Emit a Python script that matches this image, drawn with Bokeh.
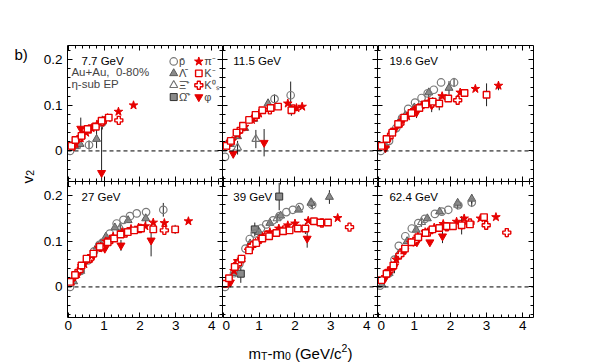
import numpy as np
from bokeh.plotting import figure
from bokeh.layouts import row, column
from bokeh.models import (Range1d, Span, Label, LinearAxis, SingleIntervalTicker,
                          CustomJSTickFormatter)
from bokeh.core.properties import value
from bokeh.embed import file_html
from bokeh.resources import INLINE

ENERGIES = ["7.7", "11.5", "19.6", "27", "39", "62.4"]

# v2 vs mT-m0 : (mT-m0, v2, error)
PBAR = {
    "7.7": [(0.05, 0.0, 0), (0.58, 0.013, 0.01), (0.95, 0.062, 0.015)],
    "11.5": [(0.05, -0.013, 0), (1.43, 0.114, 0.01), (1.88, 0.122, 0.03)],
    "19.6": [(0.07, 0.0, 0), (0.3, 0.022, 0), (0.5, 0.05, 0), (0.66, 0.072, 0), (0.83, 0.092, 0),
             (1.02, 0.106, 0), (1.2, 0.116, 0), (1.37, 0.126, 0), (1.54, 0.134, 0), (1.74, 0.15, 0),
             (2.1, 0.15, 0.01)],
    "27": [(0.05, 0.0, 0), (0.35, 0.035, 0), (0.55, 0.058, 0), (0.72, 0.078, 0), (0.87, 0.092, 0),
           (1.02, 0.1, 0), (1.16, 0.117, 0), (1.35, 0.139, 0), (1.54, 0.147, 0), (1.72, 0.155, 0),
           (1.91, 0.161, 0), (2.17, 0.164, 0), (2.65, 0.169, 0.015)],
    "39": [(0.05, 0.0, 0), (0.3, 0.03, 0), (0.45, 0.05, 0), (0.62, 0.084, 0), (0.74, 0.105, 0),
           (0.88, 0.117, 0), (1.05, 0.128, 0), (1.2, 0.137, 0), (1.39, 0.146, 0), (1.57, 0.155, 0),
           (1.76, 0.164, 0), (1.94, 0.169, 0), (2.13, 0.175, 0), (2.48, 0.18, 0.01)],
    "62.4": [(0.05, 0.003, 0), (0.3, 0.03, 0), (0.45, 0.06, 0), (0.57, 0.09, 0), (0.75, 0.111, 0),
             (0.93, 0.128, 0), (1.11, 0.14, 0), (1.29, 0.149, 0), (1.57, 0.16, 0), (1.76, 0.165, 0),
             (1.94, 0.169, 0), (2.22, 0.179, 0), (2.59, 0.185, 0.01)],
}
LAMBDA = {
    "7.7": [(0.2, 0.01, 0), (0.33, 0.015, 0.01), (0.79, 0.026, 0.02)],
    "11.5": [(0.2, 0.015, 0), (0.4, 0.032, 0), (0.6, 0.05, 0), (0.85, 0.07, 0), (1.25, 0.104, 0.01)],
    "19.6": [(0.2, 0.012, 0), (0.37, 0.04, 0), (0.55, 0.06, 0), (0.75, 0.078, 0), (1.0, 0.095, 0),
             (1.4, 0.128, 0.01), (1.96, 0.138, 0.015)],
    "27": [(0.15, 0.012, 0), (0.35, 0.035, 0), (0.55, 0.06, 0), (0.8, 0.088, 0), (1.05, 0.11, 0),
           (1.3, 0.13, 0), (1.67, 0.146, 0), (2.16, 0.15, 0.01)],
    "39": [(0.1, 0.005, 0), (0.3, 0.03, 0), (0.5, 0.06, 0), (0.75, 0.095, 0), (1.0, 0.12, 0),
           (1.3, 0.14, 0), (1.6, 0.156, 0), (2.1, 0.169, 0), (2.45, 0.184, 0), (2.96, 0.197, 0.015)],
    "62.4": [(0.1, 0.005, 0), (0.3, 0.03, 0), (0.55, 0.07, 0), (0.8, 0.1, 0), (1.05, 0.125, 0),
             (1.36, 0.15, 0), (1.7, 0.165, 0), (2.2, 0.184, 0), (2.59, 0.193, 0.01)],
}
XI = {
    "7.7": [],
    "11.5": [(0.4, 0.007, 0.015), (0.91, 0.026, 0.02)],
    "19.6": [(0.6, 0.062, 0.01), (1.0, 0.09, 0.012)],
    "27": [(0.9, 0.095, 0.01), (1.45, 0.13, 0.01)],
    "39": [(1.5, 0.15, 0.01), (2.45, 0.185, 0.01)],
    "62.4": [(1.2, 0.142, 0.01), (2.2, 0.18, 0.01)],
}
OMEGA = {
    "7.7": [], "11.5": [], "19.6": [], "27": [],
    "39": [(0.49, 0.029, 0.02), (0.88, 0.126, 0.015), (1.56, 0.198, 0.03)],
    "62.4": [],
}
PI = {
    "7.7": [(0.1, 0.008, 0), (0.2, 0.016, 0), (0.35, 0.028, 0), (0.5, 0.04, 0), (0.65, 0.05, 0),
            (0.8, 0.058, 0), (0.95, 0.065, 0), (1.1, 0.072, 0), (1.4, 0.086, 0), (1.82, 0.1, 0)],
    "11.5": [(0.1, 0.01, 0), (0.25, 0.022, 0), (0.4, 0.036, 0), (0.6, 0.053, 0), (0.8, 0.068, 0),
             (1.0, 0.082, 0), (1.8, 0.104, 0), (2.04, 0.094, 0), (2.2, 0.097, 0)],
    "19.6": [(0.1, 0.01, 0), (0.25, 0.025, 0), (0.4, 0.04, 0), (0.6, 0.06, 0), (0.8, 0.076, 0),
             (1.0, 0.09, 0), (1.2, 0.1, 0), (1.4, 0.108, 0), (1.77, 0.12, 0), (2.27, 0.128, 0),
             (2.69, 0.136, 0), (3.33, 0.143, 0.01)],
    "27": [(0.1, 0.012, 0), (0.25, 0.028, 0), (0.45, 0.05, 0), (0.65, 0.068, 0), (0.85, 0.085, 0),
           (1.05, 0.1, 0), (1.25, 0.11, 0), (1.5, 0.12, 0), (1.75, 0.127, 0), (1.96, 0.13, 0),
           (2.15, 0.133, 0), (2.37, 0.141, 0), (2.68, 0.14, 0), (3.35, 0.144, 0)],
    "39": [(0.1, 0.01, 0), (0.3, 0.035, 0), (0.5, 0.06, 0), (0.7, 0.08, 0), (0.9, 0.097, 0),
           (1.1, 0.11, 0), (1.3, 0.12, 0), (1.55, 0.128, 0), (1.8, 0.135, 0), (2.0, 0.139, 0),
           (2.37, 0.145, 0), (3.19, 0.151, 0)],
    "62.4": [(0.1, 0.015, 0), (0.3, 0.035, 0), (0.5, 0.06, 0), (0.7, 0.08, 0), (0.9, 0.097, 0),
             (1.1, 0.11, 0), (1.3, 0.12, 0), (1.55, 0.13, 0), (1.8, 0.138, 0), (2.17, 0.143, 0),
             (2.38, 0.15, 0), (2.83, 0.15, 0), (3.26, 0.153, 0)],
}
KMINUS = {
    "7.7": [(0.09, 0.011, 0), (0.2, 0.024, 0), (0.37, 0.033, 0), (0.54, 0.048, 0), (0.77, 0.053, 0),
            (0.93, 0.066, 0), (1.13, 0.073, 0)],
    "11.5": [(0.09, 0.011, 0), (0.21, 0.022, 0), (0.37, 0.04, 0), (0.55, 0.055, 0), (0.72, 0.068, 0),
             (0.9, 0.079, 0), (1.09, 0.089, 0), (1.32, 0.094, 0), (1.53, 0.097, 0), (1.9, 0.089, 0.012)],
    "19.6": [(0.09, 0.011, 0), (0.23, 0.026, 0), (0.39, 0.04, 0), (0.55, 0.059, 0), (0.72, 0.073, 0),
             (0.92, 0.083, 0), (1.14, 0.094, 0), (1.31, 0.102, 0), (1.51, 0.108, 0.01),
             (1.69, 0.104, 0.015), (1.94, 0.115, 0), (2.39, 0.127, 0), (3.0, 0.123, 0.025)],
    "27": [(0.05, 0.011, 0), (0.19, 0.026, 0), (0.37, 0.047, 0), (0.51, 0.062, 0), (0.7, 0.073, 0),
           (0.88, 0.088, 0), (1.1, 0.098, 0), (1.28, 0.106, 0), (1.46, 0.115, 0), (1.66, 0.12, 0),
           (1.84, 0.124, 0), (2.03, 0.128, 0), (2.37, 0.126, 0), (2.98, 0.126, 0.01)],
    "39": [(0.05, 0.007, 0), (0.16, 0.019, 0), (0.32, 0.044, 0), (0.51, 0.062, 0), (0.72, 0.08, 0),
           (0.92, 0.096, 0), (1.09, 0.106, 0), (1.28, 0.111, 0), (1.48, 0.118, 0), (1.67, 0.122, 0),
           (1.85, 0.124, 0), (2.08, 0.128, 0), (2.29, 0.128, 0.012), (2.53, 0.144, 0),
           (2.71, 0.141, 0), (2.92, 0.141, 0)],
    "62.4": [(0.09, 0.015, 0), (0.23, 0.029, 0), (0.42, 0.047, 0), (0.74, 0.084, 0), (0.92, 0.098, 0),
             (1.11, 0.109, 0), (1.31, 0.118, 0), (1.5, 0.126, 0), (1.69, 0.129, 0), (1.9, 0.133, 0),
             (2.07, 0.133, 0), (2.31, 0.135, 0), (2.54, 0.137, 0), (2.93, 0.153, 0)],
}
K0S = {
    "7.7": [(0.15, 0.012, 0), (0.35, 0.03, 0), (0.6, 0.048, 0), (0.95, 0.064, 0), (1.41, 0.067, 0.008)],
    "11.5": [(0.2, 0.02, 0), (0.5, 0.048, 0), (0.9, 0.075, 0), (1.3, 0.09, 0), (1.95, 0.092, 0)],
    "19.6": [(0.3, 0.03, 0), (0.6, 0.06, 0), (1.0, 0.087, 0), (1.5, 0.105, 0), (2.2, 0.111, 0.008)],
    "27": [(0.3, 0.035, 0), (0.6, 0.062, 0), (0.9, 0.087, 0), (1.2, 0.104, 0), (1.6, 0.118, 0),
           (2.0, 0.128, 0), (2.68, 0.124, 0.008)],
    "39": [(0.4, 0.05, 0), (0.8, 0.09, 0), (1.2, 0.113, 0), (1.7, 0.125, 0), (2.75, 0.14, 0),
           (3.52, 0.131, 0.008)],
    "62.4": [(0.3, 0.035, 0), (0.6, 0.07, 0), (1.0, 0.1, 0), (1.4, 0.12, 0), (1.9, 0.132, 0),
             (2.54, 0.14, 0), (2.99, 0.135, 0), (3.56, 0.119, 0.01)],
}
PHI = {
    "7.7": [(0.35, 0.049, 0.024), (0.93, -0.048, 0.1)],
    "11.5": [(0.28, -0.006, 0.01), (1.14, 0.018, 0.03)],
    "19.6": [(0.2, 0.006, 0), (0.45, 0.045, 0), (0.7, 0.07, 0), (1.06, 0.084, 0.012), (1.48, 0.1, 0.015)],
    "27": [(0.2, 0.025, 0), (0.37, 0.044, 0), (0.66, 0.063, 0), (1.02, 0.084, 0),
           (1.47, 0.091, 0.012), (2.31, 0.102, 0.035)],
    "39": [(0.2, 0.01, 0), (0.4, 0.055, 0), (0.8, 0.09, 0), (1.05, 0.104, 0), (2.34, 0.106, 0.02)],
    "62.4": [(0.2, 0.02, 0), (0.45, 0.045, 0.015), (0.74, 0.08, 0), (1.07, 0.098, 0), (1.43, 0.098, 0),
             (1.78, 0.111, 0.015), (2.31, 0.135, 0.02)],
}

RED = "#e60000"
GRAY = "#8a8a8a"
SPECIES = [  # drawing order, label, data, style
    ("Ω̄⁺", OMEGA, dict(marker="square", size=7, fill_color=GRAY, line_color="#303030", line_width=1)),
    ("Ξ̄⁺", XI, dict(marker="triangle", size=8, fill_color=None, line_color="#707070", line_width=1.1)),
    ("Λ̄", LAMBDA, dict(marker="triangle", size=8, fill_color=GRAY, line_color="#5a5a5a", line_width=1)),
    ("p̄", PBAR, dict(marker="circle", size=7.5, fill_color=None, line_color="#7a7a7a", line_width=1.2)),
    ("φ", PHI, dict(marker="inverted_triangle", size=8, fill_color=RED, line_color=RED, line_width=1)),
    ("K⁰ₛ", K0S, dict(marker="plus", size=8, fill_color="white", line_color=RED, line_width=1.4)),
    ("π⁻", PI, dict(marker="star", size=9, fill_color=RED, line_color=RED, line_width=1)),
    ("K⁻", KMINUS, dict(marker="square", size=6.5, fill_color="white", line_color=RED, line_width=1.4)),
]
LEGEND_GRAY = ["p̄", "Λ̄", "Ξ̄⁺", "Ω̄⁺"]
LEGEND_RED = ["π⁻", "K⁻", "K⁰ₛ", "φ"]

FONT = "Liberation Sans"
FRAME_W = [155, 155, 156]
FRAME_H = 136
STRIP_W = 38
TOP, LEFT, RIGHT, BOTTOM = 45, 29, 20, 18
LABEL_X = [0.37, 0.28, 0.31]
XR = (-0.02, 4.3)
YR = (-0.067, 0.231)


def add_axis(p, side, show):
    if side in ("below", "above"):
        ticker = SingleIntervalTicker(interval=1, num_minor_ticks=5)
        code = "return tick.toFixed(0);"
    else:
        ticker = SingleIntervalTicker(interval=0.1, num_minor_ticks=5)
        code = "return Math.abs(tick) < 1e-9 ? '0' : tick.toFixed(1);"
    ax = LinearAxis(ticker=ticker, axis_line_color="black", axis_line_width=1,
                    major_tick_in=5, major_tick_out=0, minor_tick_in=3, minor_tick_out=0,
                    major_tick_line_color="black", minor_tick_line_color="black")
    if show:
        ax.formatter = CustomJSTickFormatter(code=code)
        ax.major_label_text_font = FONT
        ax.major_label_text_font_size = "13.5px"
        ax.major_label_text_color = "black"
        ax.major_label_standoff = 5 if side == "left" else 3
    else:
        ax.formatter = CustomJSTickFormatter(code="return '';")
        ax.major_label_text_font_size = "0px"
        ax.major_label_standoff = 0
    p.add_layout(ax, side)


panels = []
for i, en in enumerate(ENERGIES):
    r, c = divmod(i, 3)
    p = figure(frame_width=FRAME_W[c], frame_height=FRAME_H,
               x_range=Range1d(*XR), y_range=Range1d(*YR),
               output_backend="svg", toolbar_location=None,
               x_axis_location=None, y_axis_location=None,
               min_border=0, outline_line_color=None,
               background_fill_color="white", border_fill_color="white")
    p.min_border_left = LEFT if c == 0 else 0
    p.min_border_right = RIGHT if c == 2 else 0
    p.min_border_top = TOP if r == 0 else 0
    p.min_border_bottom = BOTTOM if r == 1 else 0
    for g in p.grid:
        g.visible = False
    add_axis(p, "left", c == 0)
    add_axis(p, "right", False)
    add_axis(p, "above", False)
    add_axis(p, "below", r == 1)

    p.add_layout(Span(location=0, dimension="width", line_color="black",
                      line_width=1, line_dash="4 3"))

    # error bars first
    for name, data, st in SPECIES:
        pts = [t for t in data[en] if t[2] > 0]
        if pts:
            xs = [t[0] for t in pts]
            ys = [t[1] for t in pts]
            es = [t[2] for t in pts]
            p.segment(x0=xs, y0=[y - e for y, e in zip(ys, es)], x1=xs,
                      y1=[y + e for y, e in zip(ys, es)], line_color="#222222", line_width=1)
    for name, data, st in SPECIES:
        pts = data[en]
        if pts:
            p.scatter(x=[t[0] for t in pts], y=[t[1] for t in pts], **st)

    p.add_layout(Label(x=LABEL_X[c], y=0.197, text=f"{en} GeV", text_font=FONT,
                       text_font_size="11.5px", text_baseline="middle", text_color="black"))
    panels.append(p)

# text and legend in the first panel
p0 = panels[0]
p0.add_layout(Label(x=0.09, y=0.172, text="Au+Au,\u00a0\u00a00-80%", text_font=FONT,
                    text_font_size="11.5px", text_baseline="middle"))
p0.add_layout(Label(x=0.09, y=0.146, text="η-sub EP", text_font=FONT,
                    text_font_size="11.5px", text_baseline="middle"))
style_of = {name: st for name, data, st in SPECIES}
leg_rows = [0.196, 0.170, 0.144, 0.118]
for col_x, names in ((2.94, LEGEND_GRAY), (3.64, LEGEND_RED)):
    for ly, name in zip(leg_rows, names):
        p0.scatter(x=[col_x], y=[ly], **style_of[name])
        p0.add_layout(Label(x=col_x + 0.15, y=ly, text=name, text_font=FONT,
                            text_font_size="11px", text_baseline="middle"))

GRID_H = TOP + 2 * FRAME_H + BOTTOM
TOTAL_W = STRIP_W + LEFT + sum(FRAME_W) + RIGHT

# left strip: "b)" and y-axis title
ls = figure(frame_width=STRIP_W, frame_height=GRID_H, x_range=Range1d(0, STRIP_W),
            y_range=Range1d(0, GRID_H),
            x_axis_location=None, y_axis_location=None, min_border=0, outline_line_color=None,
            toolbar_location=None, output_backend="svg")
for g in ls.grid:
    g.visible = False
ls.text(x=[14], y=[GRID_H - 54], text=["b)"], text_font=value(FONT), text_font_size="15px",
        text_baseline="alphabetic", text_align="left", text_color="black")
ls.text(x=[26.5], y=[GRID_H - 183], text=["v"], angle=np.pi / 2, text_font=value(FONT),
        text_font_size="15px", text_baseline="alphabetic", text_align="left", text_color="black")
ls.text(x=[29], y=[GRID_H - 175.3], text=["2"], angle=np.pi / 2, text_font=value(FONT),
        text_font_size="10.5px", text_baseline="alphabetic", text_align="left", text_color="black")

# bottom strip: x-axis title  m_T - m_0 (GeV/c^2)
BS_H = 27
bs = figure(frame_width=TOTAL_W, frame_height=BS_H, x_range=Range1d(0, TOTAL_W), y_range=Range1d(0, BS_H),
            x_axis_location=None, y_axis_location=None, min_border=0, outline_line_color=None,
            toolbar_location=None, output_backend="svg")
for g in bs.grid:
    g.visible = False
MAIN, SMALL = 15, 10.5
# (text, font size, baseline shift, gap before in em of main font, width in em)
pieces = [("m", MAIN, 0, 0, 0.833), ("T", SMALL, -3, 0, 0.611), ("-m", MAIN, 0, 0, 1.166),
          ("0", SMALL, -3, 0, 0.556), ("(GeV/c", MAIN, 0, 0.278, 3.112), ("2", SMALL, 5.5, 0, 0.556),
          (")", MAIN, 0, 0, 0.333)]
xpos = 248.0
base = 9.5
for txt, fs, dy, gap, em in pieces:
    xpos += gap * MAIN
    bs.text(x=[xpos], y=[base + dy], text=[txt], text_font=value(FONT), text_font_size=f"{fs}px",
            text_baseline="alphabetic", text_align="left", text_color="black")
    xpos += em * fs

grid = column(row(panels[0], panels[1], panels[2]), row(panels[3], panels[4], panels[5]))
layout = column(row(ls, grid), bs)

open("out.html", "w").write(file_html(layout, INLINE))
